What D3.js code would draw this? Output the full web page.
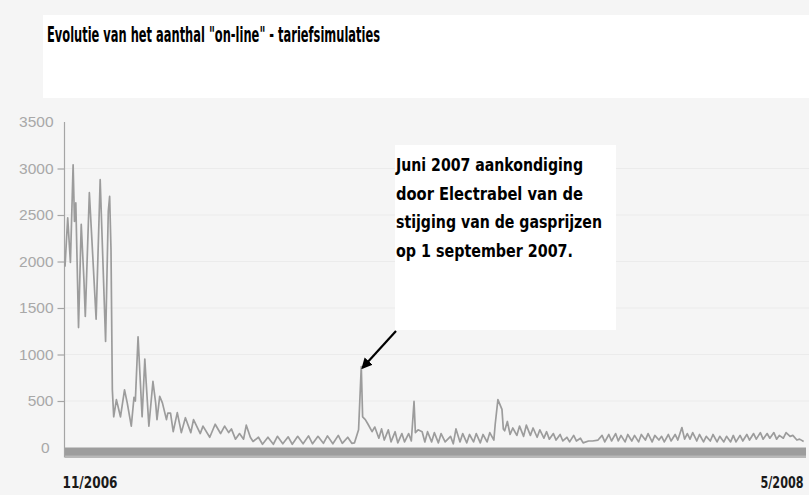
<!DOCTYPE html>
<html><head><meta charset="utf-8">
<script src="https://cdn.jsdelivr.net/npm/d3@7"></script>
<style>
body{margin:0;background:#f5f5f5;}
svg{display:block}
</style>
</head><body>
<svg id="chart" width="809" height="495"></svg>
<script>
// ---- data ----
const titleText = 'Evolutie van het aanthal "on-line" - tariefsimulaties';
const noteLines = ["Juni 2007 aankondiging", "door Electrabel van de", "stijging van de gasprijzen", "op 1 september 2007."];
const yTickValues = [0, 500, 1000, 1500, 2000, 2500, 3000, 3500];
const startDate = "2006-11-01";
const endDate = "2008-05-01";
// days since 1 Nov 2006
const days = [0,2,4,6,7,8,10,12,14,15,18,20,23,26,30,32,33,34,35,36,38,41,44,46,49,51,52,54,57,59,60,62,65,67,68,70,72,75,76,78,80,83,86,89,93,95,100,102,107,111,115,118,121,123,126,129,132,134,137,139,
143,146,150,154,157,161,165,168,172,176,180,183,187,191,194,198,202,205,209,212,214,217,219,220,222,224,227,229,232,234,236,239,241,244,246,249,251,254,256,258,259,261,264,266,268,271,273,276,278,281,285,287,289,292,294,297,299,302,304,307,309,312,314,317,318,320,323,324,325,327,329,331,334,336,339,341,344,346,349,351,354,356,358,361,363,366,368,371,373,376,378,381,383,387,390,394,397,399,402,404,407,409,411,414,416,419,421,424,426,429,431,434,436,439,441,443,446,448,451,453,456,458,460,462,464,467,469,472,474,477,479,482,484,487,489,492,494,496,499,501,504,506,509,511,514,516,519,521,524,526,528,531,533,536,538,541,543,546];
const visits = [1945,2470,1990,3040,2430,2630,1290,2400,1800,1410,2740,2200,1380,2880,1140,2540,2700,2130,620,330,515,330,620,480,230,540,500,1190,330,950,700,230,710,480,300,550,480,300,370,370,170,375,160,320,160,300,150,230,110,250,150,230,160,200,90,150,90,240,110,65,
110,35,110,35,120,40,115,35,120,40,125,40,120,45,125,40,130,45,110,45,50,190,870,330,300,250,170,220,100,200,80,190,60,170,50,150,60,150,70,495,160,190,170,60,170,60,160,50,150,60,120,40,200,60,150,50,140,60,150,50,140,60,160,80,250,515,410,200,180,280,140,210,130,230,120,240,130,210,110,190,100,170,90,150,80,140,70,110,60,130,70,100,50,70,70,80,130,60,140,70,150,70,130,60,140,70,130,60,140,80,150,60,130,80,120,60,140,70,140,80,215,90,150,90,160,70,140,60,120,70,140,60,120,60,120,60,130,60,130,70,140,80,150,90,160,90,150,100,160,90,130,100,160,120,130,80,90,65];

// ---- chart ----
const svg = d3.select("#chart");
const W = 809, H = 495;
const m = {left: 65, right: 4, top: 122, bottom: 47.5};
const parse = d3.utcParse("%Y-%m-%d");
const t0 = parse(startDate), t1 = parse(endDate);
const data = days.map((d, i) => ({date: d3.utcDay.offset(t0, d), v: visits[i]}));

const x = d3.scaleUtc().domain([t0, t1]).range([m.left, W - m.right]);
const y = d3.scaleLinear().domain([0, 3500]).range([H - m.bottom, m.top]);

// backgrounds
svg.append("rect").attr("width", W).attr("height", H).attr("fill", "#f5f5f5");
svg.append("rect").attr("x", 43).attr("y", 15).attr("width", W - 43).attr("height", 83).attr("fill", "#ffffff");

// gridlines
svg.append("g").selectAll("line").data(yTickValues.filter(v => v > 0 && v < 3500)).join("line")
  .attr("x1", m.left).attr("x2", W).attr("y1", d => y(d)).attr("y2", d => y(d))
  .attr("stroke", "#ebebeb").attr("stroke-width", 1);

// bottom bar
svg.append("rect").attr("x", m.left).attr("y", y(0)).attr("width", x(t1) - m.left + 1).attr("height", 10)
  .attr("fill", "#9d9d9d");
svg.append("rect").attr("x", m.left).attr("y", y(0) + 8).attr("width", x(t1) - m.left + 1).attr("height", 2.5)
  .attr("fill", "#b8b8b8");

// y axis
const yAxis = svg.append("g").attr("transform", `translate(${m.left - 0.5},0)`)
  .call(d3.axisLeft(y).tickValues(yTickValues).tickSize(7).tickPadding(4).tickFormat(d3.format("d")));
yAxis.select(".domain").attr("stroke", "#a5a5a5").attr("stroke-width", 1.2).attr("d", `M0,${y(3500)}V${y(0) + 10}`);
yAxis.selectAll(".tick line").attr("stroke", "#a5a5a5").attr("stroke-width", 1.2)
  .attr("display", d => (d === 0 || d === 3500) ? "none" : null);
yAxis.selectAll(".tick text").attr("fill", "#a8a8a8").style("font-family", "Liberation Sans, Arial, sans-serif").style("font-size", "15.5px");
yAxis.selectAll(".tick").filter(d => d === 0).select("text").attr("x", -15);

// x axis labels
const xAxis = svg.append("g").attr("transform", `translate(0,${y(0) + 10})`)
  .call(d3.axisBottom(x).tickValues([t0, t1]).tickSize(0).tickPadding(19).tickFormat(d3.utcFormat("%-m/%Y")));
xAxis.select(".domain").remove();
xAxis.selectAll(".tick text").attr("fill", "#1a1a1a")
  .style("font-family", "DejaVu Sans Condensed, DejaVu Sans, sans-serif").style("font-weight", "bold").style("font-size", "16px")
  .attr("text-anchor", (d, i) => i === 0 ? "start" : "end")
  .attr("dx", (d, i) => i === 0 ? -3 : -2)
  .attr("textLength", (d, i) => i === 0 ? 55 : 43).attr("lengthAdjust", "spacingAndGlyphs");

// line
const line = d3.line().x(d => x(d.date)).y(d => y(d.v));
svg.append("path").datum(data).attr("d", line).attr("fill", "none")
  .attr("stroke", "#9c9c9c").attr("stroke-width", 1.7).attr("stroke-linejoin", "round");

// title
svg.append("text").attr("x", 47).attr("y", 42).text(titleText)
  .attr("fill", "#000").style("font-family", "DejaVu Sans Condensed, DejaVu Sans, sans-serif")
  .style("font-weight", "bold").style("font-size", "21px")
  .attr("textLength", 333).attr("lengthAdjust", "spacingAndGlyphs");

// annotation box
svg.append("rect").attr("x", 395).attr("y", 145).attr("width", 221).attr("height", 185).attr("fill", "#ffffff");
const noteWidths = [187, 187, 206, 177];
svg.append("g").selectAll("text").data(noteLines).join("text")
  .attr("x", 396).attr("y", (d, i) => 171 + i * 28.5).text(d => d)
  .attr("fill", "#000").style("font-family", "DejaVu Sans Condensed, DejaVu Sans, sans-serif")
  .style("font-weight", "bold").style("font-size", "18px")
  .attr("textLength", (d, i) => noteWidths[i]).attr("lengthAdjust", "spacingAndGlyphs");

// arrow to the June 2007 peak
const juneStart = parse("2007-06-01"), juneEnd = parse("2007-07-01");
const peak = data.filter(d => d.date >= juneStart && d.date < juneEnd).reduce((a, b) => b.v > a.v ? b : a);
svg.append("defs").append("marker").attr("id", "ah").attr("viewBox", "0 0 10 10")
  .attr("refX", 8).attr("refY", 5).attr("markerWidth", 5).attr("markerHeight", 5)
  .attr("markerUnits", "strokeWidth").attr("orient", "auto")
  .append("path").attr("d", "M0,0L10,5L0,10Z").attr("fill", "#000");
svg.append("line").attr("x1", 396).attr("y1", 331).attr("x2", x(peak.date) + 1.5).attr("y2", y(peak.v) + 1)
  .attr("stroke", "#000").attr("stroke-width", 2.2).attr("marker-end", "url(#ah)");
</script>
</body></html>
